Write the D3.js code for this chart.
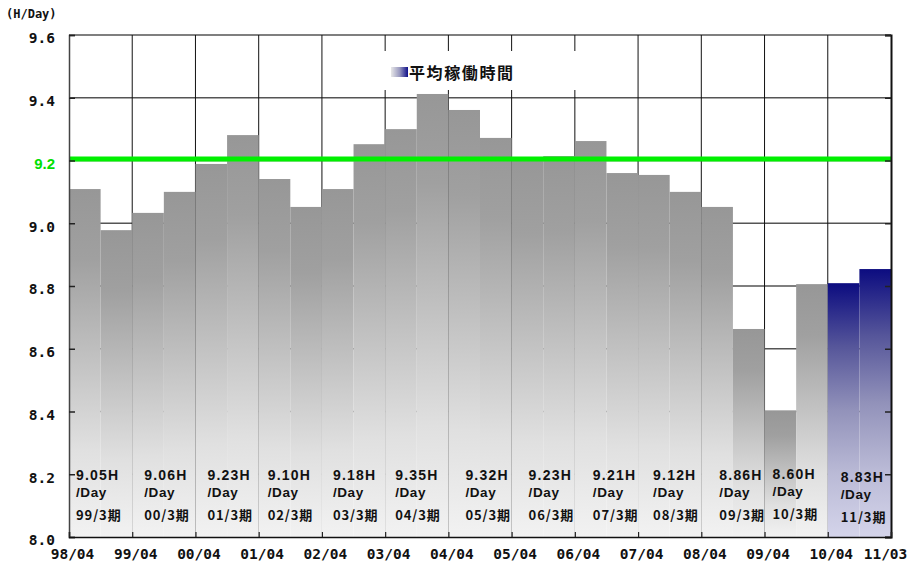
<!DOCTYPE html>
<html>
<head>
<meta charset="utf-8">
<script src="https://cdn.jsdelivr.net/npm/d3@7"></script>
<style>
  html, body { margin: 0; padding: 0; background: #fff; }
  svg { display: block; }
</style>
</head>
<body>
<svg id="chart" width="909" height="566"></svg>
<script>
// ---------------- data ----------------
const periods = d3.range(26); // half-year periods from 98/04 to 11/03
const hours = [9.109, 8.978, 9.033, 9.100, 9.189, 9.281, 9.141, 9.052, 9.109, 9.252,
               9.300, 9.412, 9.361, 9.272, 9.208, 9.214, 9.262, 9.160, 9.154, 9.100,
               9.052, 8.663, 8.403, 8.806, 8.809, 8.854];
const highlighted = [24, 25]; // current fiscal year bars (navy)
const xTickLabels = ["98/04","99/04","00/04","01/04","02/04","03/04","04/04",
                     "05/04","06/04","07/04","08/04","09/04","10/04","11/03"];
const yTicks = [8.0, 8.2, 8.4, 8.6, 8.8, 9.0, 9.2, 9.4, 9.6];
const targetValue = 9.2;
const annualAvg = [9.05, 9.06, 9.23, 9.10, 9.18, 9.35, 9.32, 9.23, 9.21, 9.12, 8.86, 8.60, 8.83];
const fiscalLabels = ["99/3期","00/3期","01/3期","02/3期","03/3期","04/3期","05/3期",
                      "06/3期","07/3期","08/3期","09/3期","10/3期","11/3期"];
const legendLabel = "平均稼働時間";
const unitLabel = "(H/Day)";

// ---------------- layout ----------------
const L = 69, R = 891, T = 35, B = 537;
const labelNudgeX = [7, 12, 12, 9, 11, 10, 17, 17, 18, 15, 18, 8, 13];
const labelNudgeY = [0, 0, 0, 0, 0, 0, 0, 0, 0, 0, 0, -1, 2];

const svg = d3.select("#chart");
const defs = svg.append("defs");

const x = d3.scaleBand().domain(periods).range([L, R]).padding(0);
const xb = d3.scaleLinear().domain([0, 26]).range([L, R]); // period boundaries
const y = d3.scaleLinear().domain([8.0, 9.6]).range([B, T]);

// gradients
const gGray = defs.append("linearGradient").attr("id", "gGray")
  .attr("x1", 0).attr("y1", 0).attr("x2", 0).attr("y2", 1);
[[0, "#979797"], [0.2, "#a0a0a0"], [0.45, "#bdbdbd"], [0.75, "#e0e0e0"], [1, "#f2f2f2"]]
  .forEach(([o, c]) => gGray.append("stop").attr("offset", o).attr("stop-color", c));
const gNavy = defs.append("linearGradient").attr("id", "gNavy")
  .attr("x1", 0).attr("y1", 0).attr("x2", 0).attr("y2", 1);
[[0, "#0c0c80"], [0.25, "#56569a"], [0.5, "#9292ba"], [0.75, "#babad6"], [1, "#d4d4ea"]]
  .forEach(([o, c]) => gNavy.append("stop").attr("offset", o).attr("stop-color", c));
const gLegend = defs.append("linearGradient").attr("id", "gLegend")
  .attr("x1", 0).attr("y1", 0).attr("x2", 1).attr("y2", 0);
[[0, "#e8e8e8"], [0.5, "#9a9ac0"], [1, "#10108a"]]
  .forEach(([o, c]) => gLegend.append("stop").attr("offset", o).attr("stop-color", c));

// horizontal gridlines
svg.append("g").selectAll("line").data(yTicks.filter(v => v > 8.0)).join("line")
  .attr("x1", L).attr("x2", R)
  .attr("y1", d => y(d)).attr("y2", d => y(d))
  .attr("stroke", "#555").attr("stroke-width", 1.5);

// vertical gridlines at year boundaries
svg.append("g").selectAll("line").data(d3.range(2, 26, 2)).join("line")
  .attr("x1", d => xb(d)).attr("x2", d => xb(d))
  .attr("y1", T).attr("y2", B)
  .attr("stroke", "#111").attr("stroke-width", 1);

// legend white box (covers gridlines)
svg.append("rect").attr("x", 340).attr("y", 51).attr("width", 282).attr("height", 39)
  .attr("fill", "#fff");

// bars
svg.append("g").selectAll("rect").data(periods).join("rect")
  .attr("x", d => x(d))
  .attr("y", d => y(hours[d]))
  .attr("width", x.bandwidth())
  .attr("height", d => y(8.0) - y(hours[d]))
  .attr("fill", d => highlighted.includes(d) ? "url(#gNavy)" : "url(#gGray)");

// target line
svg.append("line")
  .attr("x1", L).attr("x2", R)
  .attr("y1", y(targetValue) - 1.5).attr("y2", y(targetValue) - 1.5)
  .attr("stroke", "#00f000").attr("stroke-width", 5);

// legend
svg.append("rect").attr("x", 391).attr("y", 67).attr("width", 17).attr("height", 10)
  .attr("fill", "url(#gLegend)");
svg.append("text").attr("x", 409).attr("y", 79)
  .attr("font-family", "'Noto Sans CJK JP', sans-serif").attr("font-weight", "bold")
  .attr("font-size", 16).attr("letter-spacing", 1.6).attr("fill", "#111")
  .text(legendLabel);

// left axis
const yAxis = d3.axisLeft(y).tickValues(yTicks).tickSize(-6).tickPadding(14)
  .tickFormat(d3.format(".1f"));
const gy = svg.append("g").attr("transform", `translate(${L},0)`).call(yAxis);
gy.select(".domain").attr("stroke", "#444").attr("stroke-width", 1.5);
gy.selectAll(".tick line").attr("stroke", "#222").attr("stroke-width", 1.5);
gy.selectAll(".tick text")
  .attr("font-weight", "bold")
  .attr("fill", d => d === targetValue ? "#00e000" : "#111")
  .attr("font-family", d => d === targetValue ? "'Liberation Sans', Arial, sans-serif" : "'DejaVu Sans Mono', monospace")
  .attr("font-size", d => d === targetValue ? 15 : 14.5)
  .attr("dy", "0.55em");

// right border with inward ticks
const yAxisR = d3.axisRight(y).tickValues(yTicks).tickSize(-6).tickFormat("");
const gyr = svg.append("g").attr("transform", `translate(${R},0)`).call(yAxisR);
gyr.select(".domain").attr("stroke", "#111").attr("stroke-width", 2);
gyr.selectAll(".tick line").attr("stroke", "#222").attr("stroke-width", 1.5);

// bottom axis
const xAxis = d3.axisBottom(xb).tickValues(d3.range(0, 27, 2)).tickSize(-5).tickPadding(12)
  .tickFormat((d, i) => xTickLabels[i]);
const gx = svg.append("g").attr("transform", `translate(0,${B})`).call(xAxis);
gx.select(".domain").attr("stroke", "#111").attr("stroke-width", 1.5);
gx.selectAll(".tick line").attr("stroke", "#222").attr("stroke-width", 1.2);
gx.selectAll(".tick text")
  .attr("font-family", "'DejaVu Sans Mono', monospace").attr("font-weight", "bold")
  .attr("font-size", 14.5).attr("fill", "#111").attr("dx", (d, i) => i === 13 ? -6 : 3);

// unit label
svg.append("text").attr("x", 6).attr("y", 18)
  .attr("font-family", "'DejaVu Sans Mono', monospace").attr("font-weight", "bold")
  .attr("font-size", 12).attr("fill", "#111").text(unitLabel);

// annual annotations
const ann = svg.append("g").selectAll("g").data(annualAvg).join("g")
  .attr("transform", (d, i) => `translate(${xb(i * 2) + labelNudgeX[i]},${labelNudgeY[i]})`)
  .attr("font-weight", "bold").attr("fill", "#111");
ann.append("text").attr("y", 480).attr("font-size", 14).attr("letter-spacing", 1.2)
  .attr("font-family", "'Liberation Sans', Arial, sans-serif")
  .text(d => d.toFixed(2) + "H");
ann.append("text").attr("y", 497).attr("font-size", 13.5).attr("letter-spacing", 0.6)
  .attr("font-family", "'Liberation Sans', Arial, sans-serif")
  .text("/Day");
ann.append("text").attr("y", 520).attr("font-size", 13).attr("letter-spacing", 0.9)
  .attr("font-family", "'Noto Sans CJK JP', sans-serif")
  .text((d, i) => fiscalLabels[i]);
</script>
</body>
</html>
